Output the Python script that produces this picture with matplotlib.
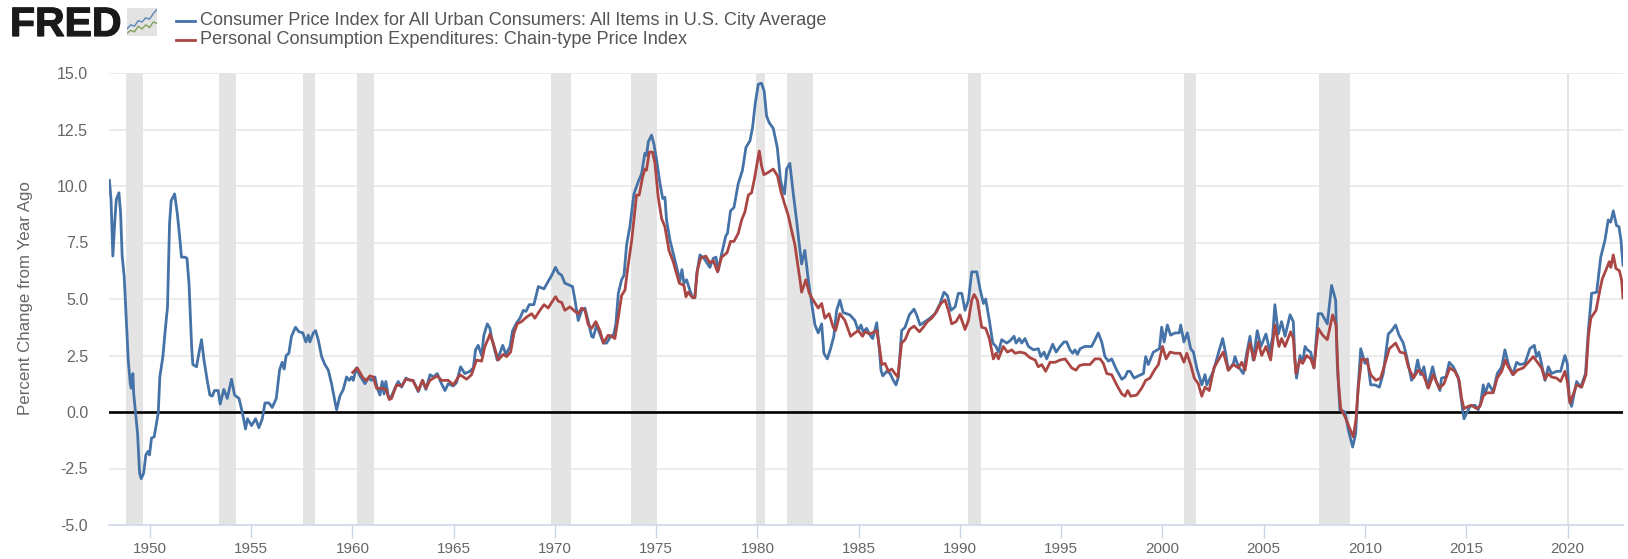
import matplotlib
matplotlib.use("Agg")
import matplotlib.pyplot as plt
import matplotlib.patheffects as pe

plt.rcParams['font.family'] = ['Liberation Sans', 'DejaVu Sans']

cpi_years = [1948.0,1948.08,1948.17,1948.27,1948.34,1948.47,1948.55,1948.63,1948.73,1948.83,1948.93,1949.03,1949.08,1949.16,1949.2,1949.29,1949.39,1949.49,1949.57,1949.69,1949.8,1949.9,1949.98,1950.08,1950.21,1950.41,1950.49,1950.64,1950.77,1950.87,1950.97,1951.05,1951.22,1951.35,1951.47,1951.56,1951.73,1951.83,1951.93,1952.06,1952.12,1952.3,1952.45,1952.55,1952.67,1952.83,1952.96,1953.08,1953.19,1953.37,1953.47,1953.65,1953.82,1954.03,1954.18,1954.4,1954.56,1954.72,1954.82,1955.02,1955.22,1955.38,1955.55,1955.68,1955.88,1956.04,1956.24,1956.4,1956.53,1956.63,1956.73,1956.86,1956.99,1957.19,1957.36,
1957.55,1957.7,1957.82,1957.9,1958.07,1958.18,1958.31,1958.48,1958.64,1958.81,1958.97,1959.14,1959.22,1959.38,1959.55,1959.71,1959.84,1959.96,1960.04,1960.2,1960.34,1960.62,1960.78,1960.95,1961.11,1961.23,1961.36,1961.47,1961.56,1961.65,1961.77,1961.88,1962.1,1962.26,1962.43,1962.64,1962.84,1963.0,1963.25,1963.46,1963.63,1963.83,1964.0,1964.19,1964.4,1964.57,1964.73,1964.98,1965.14,1965.34,1965.55,1965.8,1965.97,1966.08,1966.21,1966.38,1966.49,1966.66,
1966.79,1966.87,1967.15,1967.28,1967.42,1967.58,1967.78,1967.91,1968.11,1968.27,1968.44,1968.57,1968.73,1968.96,1969.18,1969.46,1969.62,1969.84,1970.03,1970.17,1970.33,1970.49,1970.74,1970.87,1970.99,1971.15,1971.32,1971.48,1971.65,1971.81,1971.89,1972.06,1972.22,1972.39,1972.55,1972.72,1972.91,1973.01,1973.13,1973.29,1973.41,1973.54,1973.7,1973.9,1974.12,1974.28,1974.44,1974.52,1974.61,1974.77,1974.89,1975.02,1975.19,1975.32,1975.43,1975.51,1975.68,1975.93,
1976.17,1976.27,1976.37,1976.5,1976.66,1976.8,1976.91,1977.0,1977.16,1977.36,1977.65,1977.82,1977.95,1978.06,1978.23,1978.44,1978.52,1978.67,1978.84,1979.05,1979.26,1979.43,1979.63,1979.76,1979.89,1980.04,1980.2,1980.33,1980.45,1980.58,1980.78,1980.98,1981.14,1981.24,1981.34,1981.44,1981.6,1981.77,1981.93,1982.06,1982.18,1982.34,1982.51,1982.67,1982.84,1983.0,1983.17,1983.28,1983.45,1983.61,1983.77,1983.91,1984.07,1984.23,1984.56,1984.81,1984.98,1985.11,1985.22,1985.39,
1985.56,1985.69,1985.89,1986.02,1986.1,1986.19,1986.38,1986.55,1986.71,1986.84,1986.96,1987.12,1987.29,1987.5,1987.73,1987.86,1988.03,1988.28,1988.52,1988.77,1989.02,1989.21,1989.38,1989.56,1989.76,1989.92,1990.09,1990.25,1990.42,1990.58,1990.83,1991.0,1991.16,1991.27,1991.45,1991.62,1991.78,1991.9,1992.06,1992.31,1992.47,1992.67,1992.77,1992.93,1993.05,1993.21,1993.38,1993.63,1993.87,1993.99,1994.15,1994.28,1994.58,1994.75,
1994.94,1995.14,1995.27,1995.43,1995.57,1995.68,1995.8,1995.93,1996.17,1996.5,1996.67,1996.83,1997.0,1997.16,1997.33,1997.49,1997.74,1997.99,1998.15,1998.28,1998.4,1998.6,1998.81,1999.06,1999.17,1999.3,1999.55,1999.85,1999.96,2000.08,2000.24,2000.4,2000.62,2000.83,2000.9,2001.06,2001.23,2001.39,2001.53,2001.69,2001.94,2002.1,2002.19,2002.51,2002.76,2002.97,2003.12,2003.25,2003.5,2003.58,2003.75,2003.99,2004.16,
2004.32,2004.48,2004.68,2004.86,2005.11,2005.31,2005.44,2005.55,2005.72,2005.88,2006.05,2006.3,2006.46,2006.54,2006.62,2006.79,2006.92,2007.04,2007.15,2007.32,2007.48,2007.69,2007.86,2008.14,2008.35,2008.55,2008.63,2008.76,2009.01,2009.18,2009.39,2009.54,2009.64,2009.79,2010.0,2010.12,2010.28,2010.49,2010.71,2010.9,2011.15,2011.32,2011.51,2011.68,2011.89,2012.06,2012.3,2012.47,2012.6,2012.75,2012.91,2013.08,2013.34,2013.5,
2013.7,2013.78,2014.0,2014.16,2014.36,2014.6,2014.72,2014.82,2014.89,2015.02,2015.18,2015.43,2015.59,2015.71,2015.84,2015.92,2016.1,2016.33,2016.53,2016.75,2016.91,2017.07,2017.29,2017.49,2017.65,2017.9,2018.14,2018.36,2018.47,2018.59,2018.72,2018.89,2019.05,2019.21,2019.46,2019.66,2019.87,2019.99,2020.09,2020.2,2020.45,2020.65,2020.89,2021.03,2021.19,2021.44,2021.64,2021.85,2022.01,2022.13,2022.26,2022.42,2022.54,2022.64,2022.74]
cpi_values = [10.25,9.4,6.9,8.5,9.4,9.7,8.85,6.9,6.0,4.1,2.3,1.25,1.05,1.7,0.8,-0.05,-0.95,-2.7,-2.95,-2.7,-1.9,-1.75,-1.9,-1.15,-1.1,-0.05,1.55,2.45,3.75,4.65,8.35,9.35,9.65,8.8,7.75,6.85,6.85,6.8,5.7,2.9,2.1,2.0,2.75,3.2,2.3,1.4,0.75,0.7,0.95,0.95,0.35,1.0,0.6,1.45,0.75,0.6,0.0,-0.75,-0.3,-0.6,-0.3,-0.7,-0.3,0.4,0.4,0.2,0.6,1.85,2.2,1.9,2.5,2.6,3.35,3.75,3.55,
3.5,3.1,3.4,3.1,3.5,3.6,3.2,2.45,2.1,1.85,1.25,0.45,0.1,0.7,1.0,1.55,1.4,1.55,1.4,1.95,1.65,1.25,1.5,1.4,1.55,1.05,0.75,1.35,0.8,1.35,0.7,0.6,1.05,1.35,1.1,1.5,1.4,1.4,0.9,1.4,1.0,1.65,1.55,1.7,1.25,0.95,1.25,1.15,1.3,2.0,1.7,1.8,1.95,2.75,2.95,2.5,3.4,3.9,
3.7,3.3,2.3,2.6,2.95,2.55,2.9,3.6,3.95,4.15,4.5,4.45,4.75,4.75,5.55,5.45,5.7,6.05,6.4,6.15,6.05,5.7,5.6,5.55,4.95,4.05,4.5,4.6,4.0,3.35,3.3,3.85,3.45,3.05,3.05,3.3,3.45,3.9,5.25,5.85,6.05,7.4,8.2,9.65,10.2,10.55,11.45,11.35,11.95,12.25,11.85,11.15,10.1,9.45,9.5,8.5,7.6,6.7,
5.8,6.3,5.7,5.85,5.4,5.05,5.1,6.1,6.95,6.8,6.4,6.8,6.85,6.25,7.0,7.8,7.9,8.9,9.05,10.1,10.7,11.7,12.0,12.6,13.65,14.5,14.55,14.2,13.1,12.8,12.55,11.7,10.25,9.9,9.65,10.75,11.0,9.65,8.5,7.45,6.55,7.15,5.85,4.85,3.85,3.5,3.9,2.6,2.35,2.8,3.35,4.5,4.95,4.4,4.3,4.05,3.6,3.85,3.55,3.7,
3.4,3.25,3.95,2.75,1.85,1.6,1.8,1.7,1.4,1.2,1.55,3.6,3.75,4.3,4.55,4.3,3.85,4.0,4.15,4.35,4.8,5.3,5.15,4.5,4.65,5.25,5.25,4.5,4.95,6.2,6.2,5.4,4.8,5.0,4.05,3.05,2.9,2.65,3.2,3.05,3.15,3.35,3.05,3.25,3.05,3.25,2.9,2.75,2.8,2.45,2.65,2.35,3.0,2.65,
2.9,3.1,3.1,2.75,2.6,2.75,2.55,2.8,2.9,2.9,3.2,3.5,3.1,2.45,2.25,2.35,1.85,1.45,1.55,1.8,1.8,1.5,1.6,1.7,2.45,2.1,2.65,2.8,3.75,3.1,3.85,3.4,3.5,3.5,3.85,3.1,3.5,2.8,2.65,1.95,1.2,1.65,1.2,1.8,2.6,3.25,2.6,1.85,2.15,2.45,2.0,1.7,2.6,
3.35,2.3,3.6,2.9,3.45,2.65,3.35,4.75,3.45,4.0,3.35,4.3,4.0,2.3,1.5,2.5,2.2,2.9,2.75,2.65,1.95,4.35,4.35,3.9,5.6,4.95,2.15,0.1,0.0,-0.8,-1.55,-0.95,0.8,2.8,2.15,2.35,1.2,1.2,1.1,1.7,3.45,3.6,3.85,3.4,3.05,2.45,1.4,1.7,2.3,1.65,2.0,1.1,2.0,1.4,
0.95,1.5,1.55,2.2,2.0,1.55,0.8,0.1,-0.3,-0.05,0.25,0.3,0.1,0.4,1.2,0.8,1.25,0.9,1.7,2.0,2.75,2.15,1.65,2.2,2.1,2.15,2.8,2.95,2.45,2.65,2.1,1.4,2.0,1.7,1.8,1.8,2.5,2.15,0.55,0.25,1.35,1.1,1.7,3.6,5.25,5.3,6.85,7.6,8.5,8.4,8.9,8.25,8.2,7.6,6.5]

pce_years = [1960.01,1960.24,1960.53,1960.7,1960.86,1961.03,1961.19,1961.44,1961.65,1961.82,1961.93,1962.18,1962.43,1962.64,1962.97,1963.25,1963.46,1963.63,1963.83,1964.19,1964.4,1964.73,1964.98,1965.31,1965.64,1965.88,1966.13,1966.38,1966.54,1966.71,
1966.79,1966.95,1967.2,1967.45,1967.61,1967.81,1967.98,1968.14,1968.35,1968.6,1968.85,1969.01,1969.26,1969.46,1969.67,1969.84,1970.03,1970.17,1970.33,1970.49,1970.74,1970.99,1971.15,1971.32,1971.48,1971.65,1971.81,1972.02,1972.22,1972.39,1972.63,1972.8,1972.96,1973.13,1973.29,1973.46,1973.57,1973.79,1974.03,1974.16,1974.33,1974.44,1974.52,1974.66,1974.82,1974.94,1975.1,1975.27,1975.43,1975.63,1975.84,
1976.14,1976.37,1976.47,1976.58,1976.75,1976.91,1977.03,1977.19,1977.45,1977.65,1977.82,1978.03,1978.23,1978.5,1978.67,1978.84,1979.05,1979.22,1979.38,1979.55,1979.71,1979.87,1979.99,1980.09,1980.2,1980.32,1980.53,1980.78,1980.99,1981.16,1981.36,1981.52,1981.68,1981.85,1981.96,1982.1,1982.18,1982.39,1982.56,1982.75,1983.0,1983.17,1983.33,1983.54,1983.74,1983.86,1984.07,1984.32,1984.6,1984.81,1984.98,1985.19,1985.31,
1985.55,1985.89,1986.02,1986.14,1986.3,1986.47,1986.63,1986.79,1986.93,1987.12,1987.29,1987.5,1987.73,1988.0,1988.19,1988.39,1988.6,1988.85,1989.05,1989.26,1989.43,1989.59,1989.81,1990.0,1990.25,1990.42,1990.58,1990.7,1990.86,1991.07,1991.27,1991.45,1991.65,1991.78,1991.9,1992.14,1992.34,1992.56,1992.72,1992.97,1993.21,1993.46,1993.71,1993.87,1994.04,1994.23,1994.45,1994.7,
1994.94,1995.19,1995.4,1995.52,1995.73,1995.89,1996.09,1996.42,1996.67,1996.92,1997.08,1997.25,1997.49,1997.74,1997.99,1998.15,1998.28,1998.43,1998.73,1998.97,1999.17,1999.38,1999.6,1999.8,2000.0,2000.18,2000.37,2000.62,2000.87,2001.06,2001.2,2001.39,2001.57,2001.77,2001.94,2002.1,2002.31,2002.54,2002.76,2003.0,2003.25,2003.5,2003.75,2003.91,2004.08,2004.24,
2004.32,2004.52,2004.73,2004.9,2005.11,2005.34,2005.55,2005.75,2005.88,2006.05,2006.33,2006.46,2006.59,2006.79,2006.92,2007.12,2007.32,2007.48,2007.69,2007.91,2008.14,2008.4,2008.57,2008.68,2008.8,2009.01,2009.21,2009.42,2009.55,2009.67,2009.83,2010.08,2010.28,2010.54,2010.77,2010.99,2011.2,2011.51,2011.73,2011.97,2012.14,2012.39,2012.63,2012.88,2013.13,2013.37,2013.67,
2013.9,2014.0,2014.19,2014.44,2014.65,2014.77,2014.89,2015.1,2015.26,2015.51,2015.68,2015.84,2016.0,2016.33,2016.53,2016.75,2016.93,2017.07,2017.32,2017.52,2017.81,2018.06,2018.31,2018.56,2018.72,2018.89,2019.05,2019.21,2019.46,2019.66,2019.87,2019.99,2020.12,2020.25,2020.45,2020.7,2020.91,2021.03,2021.15,2021.41,2021.6,2021.72,2021.93,2022.06,2022.14,2022.26,2022.39,2022.56,2022.67,2022.74]
pce_values = [1.75,1.95,1.5,1.4,1.6,1.55,1.05,1.05,1.0,0.55,0.6,1.2,1.15,1.45,1.4,0.95,1.4,1.05,1.4,1.6,1.4,1.4,1.2,1.65,1.45,1.65,2.3,2.25,2.9,3.25,
3.45,3.05,2.3,2.55,2.45,2.65,3.5,3.9,4.0,4.2,4.35,4.15,4.5,4.75,4.6,4.85,5.1,4.9,4.85,4.5,4.65,4.45,4.35,4.6,4.5,3.85,3.7,4.0,3.6,3.05,3.4,3.35,3.25,4.2,5.15,5.4,6.2,7.6,9.6,9.6,10.4,10.75,10.7,11.5,11.5,11.0,9.5,8.55,8.2,7.15,6.65,
5.7,5.6,5.1,5.3,5.1,5.05,6.25,6.8,6.9,6.6,6.7,6.2,6.85,7.05,7.55,7.55,7.9,8.5,8.85,9.6,9.7,10.4,11.05,11.55,10.9,10.5,10.6,10.75,10.45,9.75,9.15,8.7,8.05,7.4,6.7,5.85,5.3,5.85,5.25,4.95,4.6,4.8,4.15,4.35,3.75,3.6,4.35,4.05,3.35,3.5,3.6,3.35,3.55,
3.45,3.6,2.9,2.1,2.15,1.8,1.9,1.7,1.55,3.05,3.2,3.65,3.8,3.55,3.75,4.0,4.15,4.45,4.8,4.95,4.5,3.9,4.0,4.3,3.65,4.05,4.95,5.2,4.95,3.75,3.7,3.25,2.35,2.6,2.35,2.9,2.65,2.75,2.6,2.65,2.6,2.4,2.3,2.0,2.1,1.8,2.2,2.2,
2.3,2.35,2.1,1.95,1.85,2.05,2.1,2.1,2.35,2.35,2.15,1.7,1.65,1.2,0.8,0.7,0.95,0.7,0.75,1.05,1.4,1.5,1.85,2.1,2.9,2.35,2.65,2.6,2.6,2.2,2.6,2.1,1.5,1.25,0.7,1.1,0.95,1.95,2.3,2.65,1.85,2.1,1.95,2.2,1.85,2.8,
3.05,2.3,3.1,2.5,2.9,2.3,3.85,2.9,3.25,2.9,3.55,3.25,1.7,2.3,2.15,2.5,2.35,1.95,3.7,3.4,3.2,4.3,3.85,1.4,0.15,-0.2,-0.65,-1.1,-0.35,1.1,2.35,2.3,1.65,1.4,1.5,2.15,2.8,3.05,2.65,2.6,2.0,1.5,1.85,1.65,1.05,1.65,1.05,
1.25,1.5,1.95,1.8,1.4,0.6,0.15,0.25,0.3,0.15,0.25,0.7,0.85,0.85,1.5,1.8,2.3,2.0,1.65,1.85,1.95,2.2,2.45,2.15,1.95,1.45,1.7,1.55,1.5,1.35,1.8,1.35,0.4,0.7,1.2,1.1,1.65,3.35,4.15,4.5,5.4,5.9,6.35,6.65,6.4,6.95,6.35,6.25,5.85,5.05]

recession_starts = [1948.82,1953.42,1957.56,1960.24,1969.82,1973.74,1979.91,1981.44,1990.40,2001.06,2007.74,2019.96]
recession_ends = [1949.67,1954.25,1958.16,1961.05,1970.79,1975.04,1980.37,1982.76,1991.02,2001.65,2009.28,2020.08]

x_ticks = [1950,1955,1960,1965,1970,1975,1980,1985,1990,1995,2000,2005,2010,2015,2020]
y_ticks = [-5.0,-2.5,0.0,2.5,5.0,7.5,10.0,12.5,15.0]
y_labels = ['-5.0','-2.5','0.0','2.5','5.0','7.5','10.0','12.5','15.0']
series_names = ['Consumer Price Index for All Urban Consumers: All Items in U.S. City Average',
                'Personal Consumption Expenditures: Chain-type Price Index']
icon_x = [0,1,2,3,4,5,6,7,8]
icon_blue = [2.5,4,3.5,5.5,5,6.5,6,8,9.5]
icon_green = [1,2,1.5,3.5,2.5,4,3,5,4.5]

W, H = 1628, 559
BLUE, RED = '#4572a7', '#aa4643'
TXT = '#666666'

fig = plt.figure(figsize=(W/100, H/100), dpi=100, facecolor='white')
L, R, T, B = 109, 1623, 73, 525
ax = fig.add_axes([L/W, 1-B/H, (R-L)/W, (B-T)/H])
ax.set_xlim(1947.98, 2022.74)
ax.set_ylim(-5, 15)

ax.grid(axis='y', color='#e6e6e6', lw=1.1, zorder=1)
ax.set_axisbelow(True)
for s, e in zip(recession_starts, recession_ends):
    ax.axvspan(s, e, color='#e4e4e4', lw=0, zorder=1.5)
ax.axhline(0, color='black', lw=1.9, zorder=2)
ax.plot(cpi_years, cpi_values, color=BLUE, lw=2.0, zorder=3, solid_joinstyle='round')
ax.plot(pce_years, pce_values, color=RED, lw=2.0, zorder=4, solid_joinstyle='round')

for sp in ['top','left','right']:
    ax.spines[sp].set_visible(False)
ax.spines['bottom'].set_color('#ccd6eb')
ax.spines['bottom'].set_linewidth(1.1)
ax.set_xticks(x_ticks)
ax.set_xticklabels([str(v) for v in x_ticks])
ax.set_yticks(y_ticks)
ax.set_yticklabels(y_labels)
ax.tick_params(axis='x', length=9, width=1, color='#ccd6eb', labelsize=11, labelcolor=TXT, pad=3)
ax.tick_params(axis='y', length=0, labelsize=11.5, labelcolor=TXT, pad=15)
ax.set_ylabel('Percent Change from Year Ago', fontsize=12.2, color=TXT)
ax.yaxis.set_label_coords((33-L)/(R-L), (B-298.5)/(B-T))

# header: logo and legend
fig.text(10/W, 1-36/H, 'FRED', fontsize=29.5, fontweight='bold', color='#1a1a1a', ha='left', va='baseline',
         path_effects=[pe.withStroke(linewidth=0.9, foreground='#1a1a1a')])
icon = fig.add_axes([127/W, 1-36/H, 30/W, 28/H], facecolor='#e3e3e3')
icon.plot(icon_x, icon_blue, color='#5b86b8', lw=1.0)
icon.plot(icon_x, icon_green, color='#7f9f5a', lw=1.0)
icon.set_xlim(0, 8); icon.set_ylim(0, 10)
icon.set_xticks([]); icon.set_yticks([])
for sp in icon.spines.values():
    sp.set_visible(False)

for name, color, y in zip(series_names, [BLUE, RED], [20.8, 39.5]):
    fig.add_artist(plt.Line2D([176/W, 195/W], [1-y/H, 1-y/H], color=color, lw=2))
    fig.text(200/W, 1-y/H, name, fontsize=13.1, color='#555555', ha='left', va='center')

fig.savefig('out.png', dpi=100)
